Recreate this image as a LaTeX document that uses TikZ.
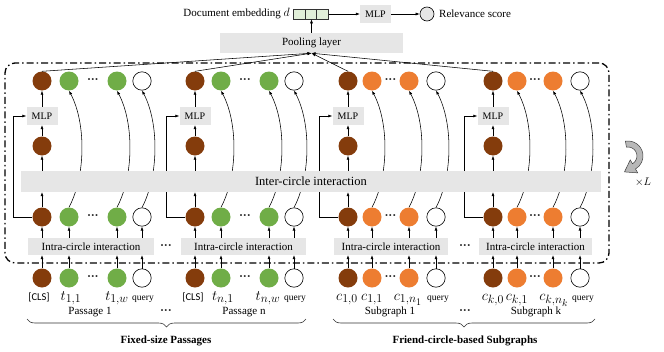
\documentclass[tikz,border=0pt]{standalone}
\usepackage{fontspec}
\setmainfont{Liberation Serif}
\newfontfamily\clsfamily{Carlito}
\usetikzlibrary{arrows.meta,decorations.pathreplacing,calc}
\DeclareMathSizes{14}{14}{12}{10}
\pgfdeclarelayer{bg}
\pgfsetlayers{bg,main}
\definecolor{cbrown}{HTML}{843C0C}
\definecolor{cgreen}{HTML}{70AD47}
\definecolor{corange}{HTML}{ED7D31}
\definecolor{cbox}{HTML}{E6E6E6}
\definecolor{cvec}{HTML}{E2F0D9}
\newcommand\mainfs{\fontsize{11}{13}\selectfont}
\newcommand\interfs{\fontsize{12.5}{14}\selectfont}
\newcommand\mathfs{\fontsize{14}{16}\selectfont}
\newcommand\queryfs{\fontsize{9.5}{11}\selectfont}
\newcommand\clsfs{\clsfamily\fontsize{10.5}{12}\selectfont}
\newcommand\mydots{\textbf{\fontsize{12}{12}\selectfont\char"00B7\kern-0.02em\char"00B7\kern-0.02em\char"00B7}}
\newcommand\circlegroup[6]{%
  \node[brownc] (#1b0) at (#2,-278) {};
  \node[#6] (#1b1) at (#3,-278) {};
  \node[#6] (#1b2) at (#4,-278) {};
  \node[queryc] (#1b3) at (#5,-278) {};
  \node[dotsl] (#1bd) at ({(#3+#4)/2},-278) {\mydots};
  \node[brownc] (#1m0) at (#2,-217) {};
  \node[#6] (#1m1) at (#3,-217) {};
  \node[#6] (#1m2) at (#4,-217) {};
  \node[queryc] (#1m3) at (#5,-217) {};
  \node[dotsl] (#1md) at ({(#3+#4)/2},-217) {\mydots};
  \node[brownc] (#1h) at (#2,-146) {};
  \node[mlpbox] (#1mlp) at (#2,-116) {MLP};
  \node[brownc] (#1t0) at (#2,-81) {};
  \node[#6] (#1t1) at (#3,-81) {};
  \node[#6] (#1t2) at (#4,-81) {};
  \node[queryc] (#1t3) at (#5,-81) {};
  \node[dotsl] (#1td) at ({(#3+#4)/2},-81) {\mydots};
  \node[graybox, minimum width={#5-#2+26}, minimum height=17, font=\mainfs] (#1intra) at ({(#2+#5)/2-1},-246.5) {Intra-circle interaction};
  \foreach \k in {0,1,2,3}{
    \draw[arr] (#1b\k) -- (#1b\k |- #1intra.south);
    \draw[arr] (#1b\k |- #1intra.north) -- (#1m\k);
  }
  \draw[arr] (#1m0) -- (#1m0 |- inter.south);
  \draw[arr] (#1m0 |- inter.north) -- (#1h);
  \draw[arr] (#1h) -- (#1mlp);
  \draw[arr] (#1mlp) -- (#1t0);
  \draw[arr] (#1t0.north) -- (pool.south);
  \begin{pgfonlayer}{bg}
    \draw[arr] (#1m0.west) -| ([xshift=-13.5pt]#1mlp.west) -- (#1mlp.west);
    \foreach \k in {1,2,3}{
      \draw[arr] (#1m\k.north) .. controls +(17,32) and +(17,-32) .. (#1t\k.south);
    }
  \end{pgfonlayer}
}
\begin{document}
\begin{tikzpicture}[x=1pt,y=1pt,
  circnode/.style={circle, minimum size=19pt, inner sep=0pt},
  brownc/.style={circnode, fill=cbrown},
  greenc/.style={circnode, fill=cgreen},
  orangec/.style={circnode, fill=corange},
  queryc/.style={circnode, draw=black, line width=0.6pt, fill=white, minimum size=18.4pt},
  dotsl/.style={inner sep=0pt, text=black!85},
  graybox/.style={fill=cbox, inner sep=0pt},
  mlpbox/.style={graybox, minimum width=31, minimum height=18, font=\fontsize{10}{12}\selectfont},
  arr/.style={-{Latex[length=4pt,width=3pt]}, line width=0.55pt},
  lab/.style={anchor=base, inner sep=0pt},
  txt/.style={inner sep=0pt, font=\mainfs},
  brc/.style={decorate, decoration={brace, mirror, amplitude=8pt}, line width=0.6pt, black!80},
]
\useasboundingbox (0,0) rectangle (664,-351);

% top part
\node[graybox, minimum width=183, minimum height=20, font=\mainfs] (pool) at (311.5,-43) {Pooling layer};
\node[draw=black!80, fill=cvec, minimum width=11.7, minimum height=10, inner sep=0pt, line width=0.6pt] (v1) at (299,-14) {};
\node[draw=black!80, fill=cvec, minimum width=11.7, minimum height=10, inner sep=0pt, line width=0.6pt] (v2) at (310.7,-14) {};
\node[draw=black!80, fill=cvec, minimum width=11.7, minimum height=10, inner sep=0pt, line width=0.6pt] (v3) at (322.4,-14) {};
\node[txt, anchor=east] (doclab) at (290,-14) {Document embedding \fontsize{13}{15}\selectfont$d$};
\node[mlpbox] (mlptop) at (375.5,-14) {MLP};
\node[circle, draw=black, fill=cbox, minimum size=14pt, inner sep=0pt, line width=0.6pt] (score) at (427,-14) {};
\node[txt, anchor=west] (scorelab) at (439,-14) {Relevance score};
\draw[arr] (pool.north) -- (pool.north |- v2.south);
\draw[arr] (v3.east) -- (mlptop.west);
\draw[arr] (mlptop.east) -- (score.west);

% inter-circle box
\node[graybox, minimum width=580, minimum height=21, font=\interfs] (inter) at (311,-181.5) {Inter-circle interaction};

\circlegroup{p}{42}{69}{117}{142}{greenc}
\circlegroup{q}{195}{221}{269}{294}{greenc}
\circlegroup{s}{348}{372}{409}{436}{orangec}
\circlegroup{k}{493}{517}{553}{580}{orangec}

\node[dotsl] (dd1) at (166,-247) {\mydots};
\node[dotsl] (dd2) at (465,-247) {\mydots};

% frame
\node[draw, rounded corners=10pt, line width=1.3pt, dash pattern=on 7pt off 3pt on 1.5pt off 3pt, minimum width=604, minimum height=200, inner sep=0pt] (frame) at (307,-163) {};

% loop arrow
\coordinate (lc) at (628,-156);
\filldraw[fill=black!28, draw=black!75, line width=0.5pt]
  ($(lc)+(100:15)$) arc[start angle=100, end angle=-60, radius=15]
  -- ($(lc)+(-60:19.5)$) -- ($(lc)+(-60:12)+(-150:11)$) -- ($(lc)+(-60:4.5)$)
  -- ($(lc)+(-60:9)$) arc[start angle=-60, end angle=100, radius=9] -- cycle;
\node[txt] (times) at (643,-182) {$\times L$};

% labels
\node[lab, font=\clsfs] (l1) at (39,-300) {[CLS]};
\node[lab, font=\mathfs] (l2) at (71,-300) {$t_{1,1}$};
\node[lab, font=\mathfs] (l3) at (117,-300) {$t_{1,w}$};
\node[lab, font=\queryfs] (l4) at (143,-300) {query};
\node[lab, font=\clsfs] (l5) at (193,-300) {[CLS]};
\node[lab, font=\mathfs] (l6) at (223,-300) {$t_{n,1}$};
\node[lab, font=\mathfs] (l7) at (268,-300) {$t_{n,w}$};
\node[lab, font=\queryfs] (l8) at (295,-300) {query};
\node[lab, font=\mathfs] (l9) at (347,-300) {$c_{1,0}$};
\node[lab, font=\mathfs] (l10) at (372,-300) {$c_{1,1}$};
\node[lab, font=\mathfs] (l11) at (408,-300) {$c_{1,n_1}$};
\node[lab, font=\queryfs] (l12) at (438,-300) {query};
\node[lab, font=\mathfs] (l13) at (493,-300) {$c_{k,0}$};
\node[lab, font=\mathfs] (l14) at (517,-300) {$c_{k,1}$};
\node[lab, font=\mathfs] (l15) at (554,-300) {$c_{k,n_k}$};
\node[lab, font=\queryfs] (l16) at (583,-300) {query};

\node[txt] (pa1) at (90,-312) {Passage 1};
\node[dotsl] (pad) at (166,-312) {\mydots};
\node[txt] (pan) at (244,-312) {Passage n};
\node[txt] (sg1) at (390,-312) {Subgraph 1};
\node[dotsl] (sgd) at (465,-312) {\mydots};
\node[txt] (sgk) at (536,-312) {Subgraph k};

\coordinate (b1a) at (27,-319);
\coordinate (b1b) at (306,-319);
\coordinate (b2a) at (333,-319);
\coordinate (b2b) at (595,-319);
\draw[brc] (b1a) -- (b1b);
\draw[brc] (b2a) -- (b2b);
\node[txt, font=\mainfs\bfseries] (fx) at (166,-341) {Fixed-size Passages};
\node[txt, font=\mainfs\bfseries] (fc) at (465,-341) {Friend-circle-based Subgraphs};
\end{tikzpicture}
\end{document}
